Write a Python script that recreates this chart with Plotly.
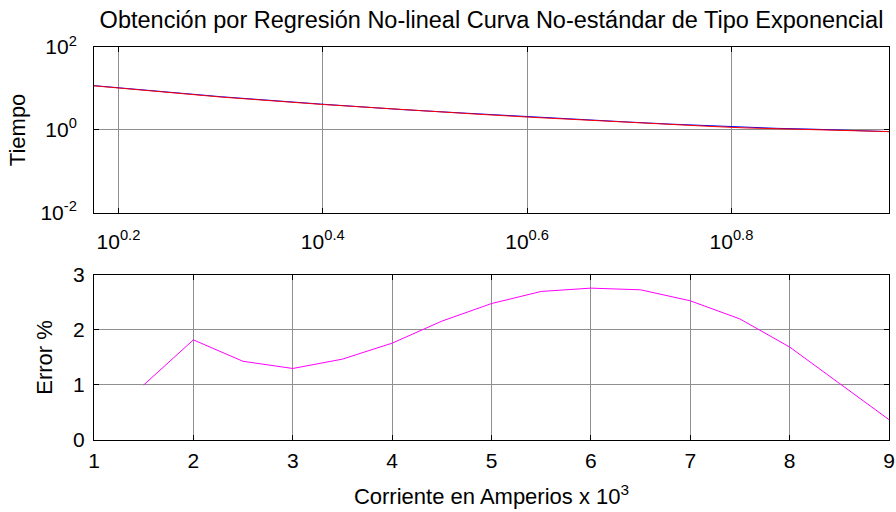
import plotly.graph_objects as go
from plotly.subplots import make_subplots
import math

corriente = [1.5, 2, 2.5, 3, 3.5, 4, 4.5, 5, 5.5, 6, 6.5, 7, 7.5, 8, 8.5, 9]
tiempo_datos = [11.7, 6.3, 4.2, 3.1, 2.5, 2.07, 1.77, 1.55, 1.38, 1.25, 1.15, 1.09, 1.05, 1.00, 0.96, 0.91]
tiempo_ajuste = [11.58, 6.19, 4.14, 3.06, 2.46, 2.03, 1.73, 1.51, 1.34, 1.22, 1.12, 1.06, 1.03, 0.98, 0.95, 0.91]
error_pct = [1.0, 1.82, 1.43, 1.30, 1.47, 1.76, 2.16, 2.48, 2.70, 2.76, 2.73, 2.53, 2.20, 1.69, 1.03, 0.37]

top_x_exps = [0.2, 0.4, 0.6, 0.8]
top_y_exps = [-2, 0, 2]
bottom_x_ticks = [1, 2, 3, 4, 5, 6, 7, 8, 9]
bottom_y_ticks = [0, 1, 2, 3]

font = "Liberation Sans, Arial, sans-serif"
tick_size = 21
label_size = 22
grid = "#8f8f8f"

fig = make_subplots(rows=2, cols=1, vertical_spacing=0.0)

fig.add_trace(go.Scatter(x=corriente, y=tiempo_datos, mode="lines",
                         line=dict(color="#0000ff", width=1)), row=1, col=1)
fig.add_trace(go.Scatter(x=corriente, y=tiempo_ajuste, mode="lines",
                         line=dict(color="#ff0000", width=1)), row=1, col=1)
fig.add_trace(go.Scatter(x=corriente, y=error_pct, mode="lines",
                         line=dict(color="#ff00ff", width=1)), row=2, col=1)

axis_common = dict(showline=True, linecolor="black", linewidth=1, mirror="allticks",
                   ticks="inside", ticklen=5, tickcolor="black",
                   showgrid=True, gridcolor=grid, gridwidth=1, zeroline=False,
                   automargin=False, ticklabeloverflow="allow",
                   tickfont=dict(family=font, size=tick_size, color="black"))

fig.update_xaxes(type="log", range=[math.log10(1.5), math.log10(9)],
                 tickvals=[10 ** e for e in top_x_exps],
                 ticktext=[f"10<sup>{e}</sup>" for e in top_x_exps],
                 ticklabelstandoff=10,
                 domain=[0, 1], **axis_common, row=1, col=1)
fig.update_yaxes(type="log", range=[-2, 2],
                 tickvals=[10 ** e for e in top_y_exps],
                 ticktext=[f"10<sup>{e}</sup>" for e in top_y_exps],
                 ticklabelstandoff=12,
                 domain=[0.578, 1.0], **axis_common,
                 title=dict(text="Tiempo", font=dict(family=font, size=label_size, color="black"), standoff=8),
                 row=1, col=1)
fig.update_xaxes(range=[1, 9], tickvals=bottom_x_ticks, **axis_common,
                 ticklabelstandoff=2,
                 title=dict(text="Corriente en Amperios x 10<sup>3</sup>",
                            font=dict(family=font, size=label_size, color="black"), standoff=17),
                 row=2, col=1)
fig.update_yaxes(range=[0, 3], tickvals=bottom_y_ticks, domain=[0.0, 0.42], **axis_common,
                 ticklabelstandoff=4,
                 title=dict(text="Error %", font=dict(family=font, size=label_size, color="black"), standoff=14),
                 row=2, col=1)

fig.update_layout(
    width=896, height=512,
    margin=dict(l=94, r=7, t=47, b=72),
    paper_bgcolor="white", plot_bgcolor="white",
    showlegend=False,
    title=dict(text="Obtención por Regresión No-lineal Curva No-estándar de Tipo Exponencial",
               x=(94 + 889) / 2 / 896, xanchor="center", yref="container",
               y=1 - 20 / 512, yanchor="middle",
               font=dict(family=font, size=23.5, color="black")),
)

fig.write_html("out.html", config={"displayModeBar": False},
               post_script="document.body.style.margin='0';")
